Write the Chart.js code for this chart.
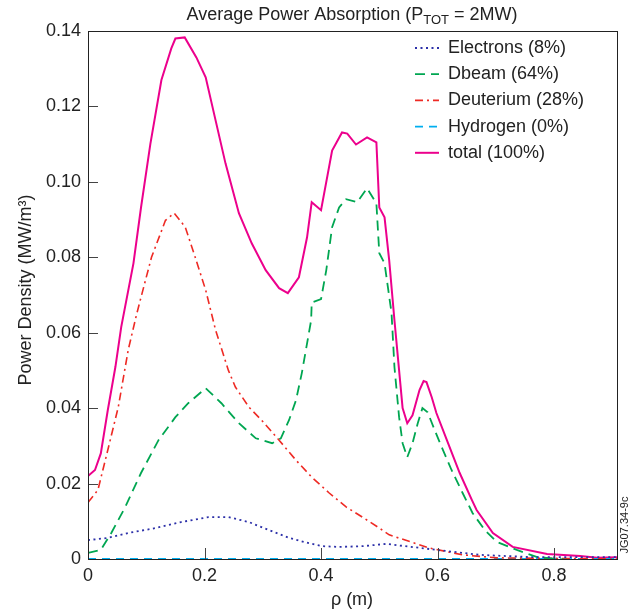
<!DOCTYPE html>
<html>
<head>
<meta charset="utf-8">
<script src="https://cdn.jsdelivr.net/npm/chart.js@4.4.1/dist/chart.umd.min.js"></script>
<style>
  html, body { margin: 0; padding: 0; background: #fff; }
  #wrap { width: 642px; height: 616px; }
</style>
</head>
<body>
<div id="wrap"><canvas id="myChart" width="642" height="616"></canvas></div>
<script>
// values (rho in m, power density in MW/m^3)
const rhoElectrons = [0, 0.034, 0.069, 0.116, 0.160, 0.207, 0.241, 0.276, 0.310, 0.345, 0.379, 0.402, 0.431, 0.471, 0.512, 0.616, 0.672, 0.759, 0.909];
const electrons    = [0.0050, 0.0056, 0.0069, 0.0082, 0.0098, 0.0111, 0.0111, 0.0098, 0.0077, 0.0056, 0.0042, 0.0034, 0.0032, 0.0034, 0.0040, 0.0021, 0.0011, 0.0005, 0.0005];

const rhoDbeam = [0, 0.022, 0.040, 0.064, 0.091, 0.121, 0.150, 0.172, 0.202, 0.229, 0.259, 0.288, 0.316, 0.331, 0.345, 0.357, 0.367, 0.383, 0.384, 0.400, 0.409, 0.419, 0.431, 0.443, 0.462, 0.479, 0.495, 0.500, 0.509, 0.521, 0.526, 0.534, 0.540, 0.548, 0.557, 0.566, 0.574, 0.583, 0.595, 0.607, 0.624, 0.643, 0.660, 0.681, 0.702, 0.736, 0.771, 0.828, 0.909];
const dbeam    = [0.0016, 0.0024, 0.0069, 0.0138, 0.0228, 0.0315, 0.0376, 0.0413, 0.0453, 0.0413, 0.0360, 0.0320, 0.0307, 0.0320, 0.0368, 0.0421, 0.0493, 0.0633, 0.0680, 0.0689, 0.0766, 0.0880, 0.0932, 0.0954, 0.0946, 0.0983, 0.0943, 0.0811, 0.0784, 0.0652, 0.0509, 0.0376, 0.0307, 0.0270, 0.0307, 0.0360, 0.0400, 0.0389, 0.0342, 0.0297, 0.0236, 0.0175, 0.0122, 0.0077, 0.0045, 0.0024, 0.0005, -0.0003, -0.0003];

const rhoDeuterium = [0, 0.017, 0.034, 0.052, 0.069, 0.083, 0.091, 0.109, 0.133, 0.148, 0.167, 0.184, 0.202, 0.219, 0.241, 0.253, 0.276, 0.298, 0.328, 0.357, 0.384, 0.414, 0.443, 0.471, 0.500, 0.517, 0.586, 0.643, 0.702, 0.909];
const deuterium    = [0.0150, 0.0183, 0.0289, 0.0403, 0.0554, 0.0646, 0.0694, 0.0800, 0.0898, 0.0917, 0.0880, 0.0800, 0.0713, 0.0607, 0.0500, 0.0456, 0.0403, 0.0368, 0.0315, 0.0262, 0.0217, 0.0175, 0.0138, 0.0111, 0.0082, 0.0064, 0.0029, 0.0011, 0.0003, 0];

const rhoHydrogen = [0, 0.909];
const hydrogen    = [0, 0];

const rhoTotal = [0, 0.012, 0.022, 0.034, 0.047, 0.057, 0.078, 0.091, 0.107, 0.126, 0.143, 0.150, 0.166, 0.186, 0.202, 0.219, 0.236, 0.259, 0.281, 0.305, 0.328, 0.343, 0.362, 0.376, 0.384, 0.400, 0.419, 0.436, 0.445, 0.460, 0.479, 0.495, 0.500, 0.509, 0.517, 0.526, 0.540, 0.548, 0.557, 0.569, 0.576, 0.581, 0.590, 0.598, 0.616, 0.638, 0.659, 0.667, 0.695, 0.729, 0.788, 0.845, 0.874, 0.909];
const total    = [0.0220, 0.0236, 0.0280, 0.0395, 0.0509, 0.0615, 0.0784, 0.0932, 0.1100, 0.1270, 0.1354, 0.1380, 0.1383, 0.1330, 0.1277, 0.1163, 0.1049, 0.0917, 0.0837, 0.0766, 0.0718, 0.0705, 0.0747, 0.0853, 0.0946, 0.0925, 0.1083, 0.1131, 0.1128, 0.1099, 0.1118, 0.1105, 0.0932, 0.0906, 0.0792, 0.0633, 0.0400, 0.0360, 0.0381, 0.0448, 0.0472, 0.0469, 0.0429, 0.0387, 0.0315, 0.0228, 0.0156, 0.0130, 0.0069, 0.0032, 0.0013, 0.0008, 0.0003, 0.0005];

const seriesLabels = ['Electrons (8%)', 'Dbeam (64%)', 'Deuterium (28%)', 'Hydrogen (0%)', 'total (100%)'];
const yTicks = [0, 0.02, 0.04, 0.06, 0.08, 0.10, 0.12, 0.14];
const xTicks = [0, 0.2, 0.4, 0.6, 0.8];

const FONT = '"Liberation Sans", Arial, Helvetica, sans-serif';

function pts(xs, ys) {
    return xs.map((x, i) => ({ x: x, y: ys[i] }));
}

// frame, inward tick marks, titles and in-plot legend
const decor = {
    id: 'decor',
    afterDatasetsDraw(chart) {
        const ctx = chart.ctx;
        const a = chart.chartArea;
        const xs = chart.scales.x, ys = chart.scales.y;
        ctx.save();
        ctx.strokeStyle = '#444';
        ctx.lineWidth = 1;
        yTicks.forEach(v => {
            const y = Math.round(ys.getPixelForValue(v)) + 0.5;
            ctx.beginPath(); ctx.moveTo(a.left, y); ctx.lineTo(a.left + 10, y); ctx.stroke();
        });
        xTicks.forEach(v => {
            const x = Math.round(xs.getPixelForValue(v)) + 0.5;
            ctx.beginPath(); ctx.moveTo(x, a.bottom); ctx.lineTo(x, a.bottom - 11); ctx.stroke();
        });
        ctx.strokeStyle = '#222';
        ctx.strokeRect(Math.round(a.left) + 0.5, Math.round(a.top) + 0.5, Math.round(a.right - a.left), Math.round(a.bottom - a.top));

        // legend
        ctx.font = '18px ' + FONT;
        ctx.textBaseline = 'middle';
        ctx.textAlign = 'left';
        chart.data.datasets.forEach((ds, i) => {
            const y = 48 + i * 26.2;
            ctx.strokeStyle = ds.borderColor;
            ctx.lineWidth = ds.borderWidth;
            ctx.setLineDash(ds.borderDash || []);
            ctx.beginPath(); ctx.moveTo(415, y); ctx.lineTo(439, y); ctx.stroke();
            ctx.setLineDash([]);
            ctx.fillStyle = '#222';
            ctx.fillText(ds.label, 448, y);
        });

        // title with subscript
        ctx.fillStyle = '#222';
        const t1 = 'Average Power Absorption (P', sub = 'TOT', t2 = ' = 2MW)';
        ctx.font = '18px ' + FONT;
        const w1 = ctx.measureText(t1).width, w2 = ctx.measureText(t2).width;
        ctx.font = '13px ' + FONT;
        const ws = ctx.measureText(sub).width;
        let x0 = 352 - (w1 + ws + w2) / 2;
        ctx.textBaseline = 'alphabetic';
        ctx.font = '18px ' + FONT;
        ctx.fillText(t1, x0, 20);
        ctx.font = '13px ' + FONT;
        ctx.fillText(sub, x0 + w1, 24);
        ctx.font = '18px ' + FONT;
        ctx.fillText(t2, x0 + w1 + ws, 20);

        // axis titles
        ctx.textAlign = 'center';
        ctx.textBaseline = 'middle';
        ctx.fillText('ρ (m)', 352, 600);
        ctx.save();
        ctx.translate(26, 290);
        ctx.rotate(-Math.PI / 2);
        ctx.fillText('Power Density (MW/m³)', 0, 0);
        ctx.restore();
        ctx.save();
        ctx.font = '11px ' + FONT;
        ctx.translate(625, 525);
        ctx.rotate(-Math.PI / 2);
        ctx.fillText('JG07.34-9c', 0, 0);
        ctx.restore();
        ctx.restore();
    }
};

new Chart(document.getElementById('myChart'), {
    type: 'line',
    data: {
        datasets: [{
            label: seriesLabels[0],
            data: pts(rhoElectrons, electrons),
            borderColor: '#2b2fa8',
            borderWidth: 1.8,
            borderDash: [2, 3.5]
        }, {
            label: seriesLabels[1],
            data: pts(rhoDbeam, dbeam),
            borderColor: '#00a651',
            borderWidth: 1.8,
            borderDash: [10, 6]
        }, {
            label: seriesLabels[2],
            data: pts(rhoDeuterium, deuterium),
            borderColor: '#ee2a24',
            borderWidth: 1.6,
            borderDash: [8, 4, 2, 4]
        }, {
            label: seriesLabels[3],
            data: pts(rhoHydrogen, hydrogen),
            borderColor: '#00aeef',
            borderWidth: 1.8,
            borderDash: [8, 6]
        }, {
            label: seriesLabels[4],
            data: pts(rhoTotal, total),
            borderColor: '#ec008c',
            borderWidth: 2
        }]
    },
    options: {
        responsive: false,
        animation: false,
        devicePixelRatio: 1,
        layout: { padding: { top: 31, right: 25, left: 0, bottom: 0 } },
        elements: { point: { radius: 0 }, line: { tension: 0 } },
        plugins: {
            legend: { display: false },
            title: { display: false },
            tooltip: { enabled: false }
        },
        scales: {
            x: {
                type: 'linear',
                min: 0,
                max: 0.908,
                grid: { display: false, drawTicks: false },
                border: { display: false },
                afterBuildTicks(scale) { scale.ticks = xTicks.map(v => ({ value: v })); },
                afterFit(scale) { scale.height = 57; },
                ticks: {
                    padding: 6,
                    color: '#222',
                    font: { size: 18, family: FONT },
                    callback: v => (v === 0 ? '0' : v.toFixed(1))
                }
            },
            y: {
                min: 0,
                max: 0.14,
                grid: { display: false, drawTicks: false },
                border: { display: false },
                afterBuildTicks(scale) { scale.ticks = yTicks.map(v => ({ value: v })); },
                afterFit(scale) { scale.width = 88; },
                ticks: {
                    padding: 7,
                    color: '#222',
                    font: { size: 18, family: FONT },
                    callback: v => (v === 0 ? '0' : v.toFixed(2))
                }
            }
        }
    },
    plugins: [decor]
});
</script>
</body>
</html>
